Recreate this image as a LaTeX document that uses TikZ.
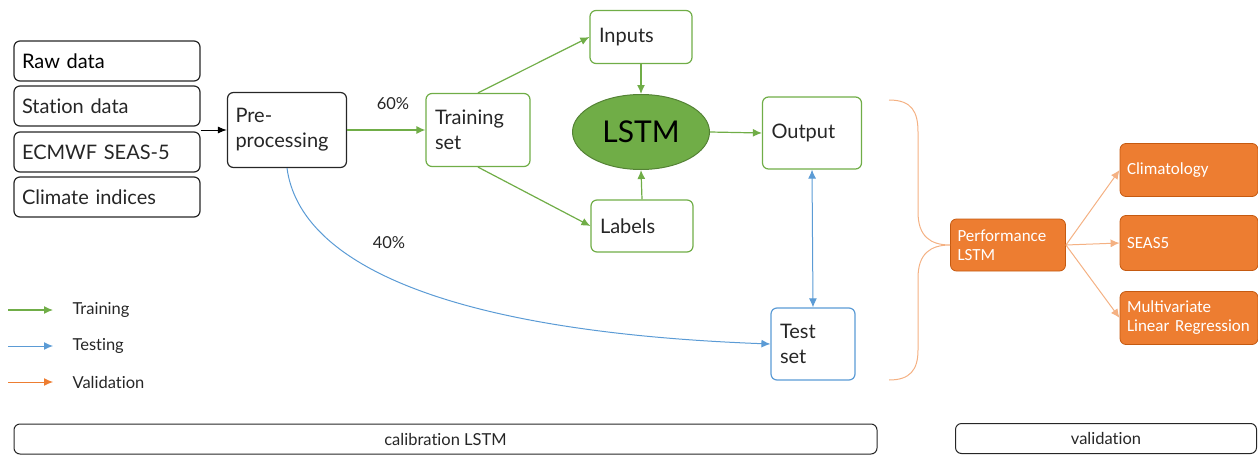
\documentclass[tikz,border=0pt]{standalone}
\usepackage{fontspec}
\setmainfont[Ligatures={NoCommon}]{Lato}
\newfontfamily\calibrifont{Carlito}
\usepackage{tikz}
\usetikzlibrary{shapes,arrows,arrows.meta,positioning}
\definecolor{green}{RGB}{112, 173, 71}
\definecolor{darkgreen}{RGB}{84, 130, 53}
\definecolor{blue}{RGB}{91, 155, 213}
\definecolor{orange}{RGB}{237, 125, 49}
\definecolor{darkorange}{RGB}{197, 90, 17}
\definecolor{lightorange}{RGB}{244, 177, 131}
\definecolor{ink}{RGB}{38, 38, 38}
\tikzstyle{databox} = [rectangle, rounded corners=6pt, draw=ink, line width=1.2pt, text=ink, font=\fontsize{20}{23}\selectfont, align=left, inner xsep=8pt]
\tikzstyle{trainbox} = [rectangle, rounded corners=6pt, draw=green, line width=1.2pt, text=ink, font=\fontsize{20}{25}\selectfont, align=left, inner xsep=9pt]
\tikzstyle{testbox} = [rectangle, rounded corners=6pt, draw=blue, line width=1.2pt, text=ink, font=\fontsize{20}{25}\selectfont, align=left, inner xsep=9pt]
\tikzstyle{lstm} = [ellipse, draw=darkgreen, line width=1pt, fill=green, text=black, font=\fontsize{30}{34}\selectfont, minimum width=137pt, minimum height=75pt]
\tikzstyle{evalbox} = [rectangle, rounded corners=6pt, draw=darkorange, line width=0.8pt, fill=orange, text=white, font=\calibrifont\fontsize{17}{19}\selectfont, align=left, inner xsep=7pt]
\tikzstyle{framebox} = [rectangle, rounded corners=6pt, draw=ink, line width=1pt, text=ink, font=\fontsize{16.5}{18}\selectfont, minimum height=30pt]
\tikzstyle{note} = [text=ink, font=\fontsize{16.5}{18}\selectfont]
\tikzstyle{dataedge} = [draw=black, line width=1pt, >={Latex[length=9pt,width=7pt]}, ->]
\tikzstyle{trainedge} = [draw=green, line width=1.2pt, >={Latex[length=9pt,width=8pt]}, ->]
\tikzstyle{testedge} = [draw=blue, line width=1pt, >={Latex[length=9pt,width=8pt]}, ->]
\tikzstyle{valedge} = [draw=lightorange, line width=1pt, >={Latex[length=9pt,width=8pt]}, ->]

\begin{document}
\begin{tikzpicture}[x=1pt, y=-1pt]
\useasboundingbox (0,0) rectangle (1258,455);

% data sources =============================
\node[databox, text width=170pt, minimum height=40pt, text=black] (raw) at (107,61) {Raw data};
\node[databox, text width=170pt, minimum height=40pt] (station) at (107,106) {Station data};
\node[databox, text width=170pt, minimum height=40pt] (ecmwf) at (107,152) {ECMWF SEAS-5};
\node[databox, text width=170pt, minimum height=40pt] (indices) at (107,197) {Climate indices};

% calibration
\node[databox, text width=103pt, minimum height=75pt, font=\fontsize{20}{25}\selectfont] (pre) at (287,130) {Pre-\\processing};
\node[trainbox, text width=86pt, minimum height=73pt] (train) at (478,130) {Training\\set};
\node[trainbox, text width=84pt, minimum height=53pt] (inputs) at (641,37) {Inputs};
\node[lstm] (lstm) at (641,132) {LSTM};
\node[trainbox, text width=84pt, minimum height=52pt] (labels) at (642,226) {Labels};
\node[trainbox, text width=81pt, minimum height=72pt] (output) at (812,133) {Output};
\node[testbox, text width=66pt, minimum height=72pt] (test) at (813,344) {Test\\set};

\node[note] (p60) at (393,104) {60\%};
\node[note] (p40) at (389,243) {40\%};

% validation
\node[evalbox, text width=101pt, minimum height=52pt] (perf) at (1008,245) {Performance\\LSTM};
\node[evalbox, text width=124pt, minimum height=53pt] (clim) at (1189,170) {Climatology};
\node[evalbox, text width=124pt, minimum height=55pt] (seas) at (1189,243) {SEAS5};
\node[evalbox, text width=124pt, minimum height=53pt] (mlr) at (1189,318) {Multivariate\\Linear Regression};

% legend
\coordinate (lg1) at (8,310);
\coordinate (lg2) at (53,310);
\coordinate (lb1) at (8,346);
\coordinate (lb2) at (53,346);
\coordinate (lo1) at (8,382);
\coordinate (lo2) at (53,382);
\node[note, anchor=west] (ltrain) at (69,310) {Training};
\node[note, anchor=west] (ltest) at (69,346) {Testing};
\node[note, anchor=west] (lval) at (69,382) {Validation};

% frames
\node[framebox, minimum width=863pt] (calib) at (445.5,439) {calibration LSTM};
\node[framebox, minimum width=301pt] (valid) at (1106,438.5) {validation};

%edges
\path[dataedge] (station.east |- pre.west) -- (pre.west);
\path[trainedge] (pre.east) -- (train.west);
\path[trainedge] (train.north) -- (inputs.west);
\path[trainedge] (train.south) -- (labels.west);
\path[trainedge] (inputs.south) -- (lstm.north);
\path[trainedge] (labels.north) -- (lstm.south);
\path[trainedge] (lstm.east) -- (output.west);

\path[testedge, <->] (output.south) -- (test.north);
\path[testedge] (pre.south) .. controls (300,265) and (450,332) .. (test.west);

\path[valedge] (perf.east) -- (clim.west);
\path[valedge] (perf.east) -- (seas.west);
\path[valedge] (perf.east) -- (mlr.west);

% brace
\draw[lightorange, line width=1pt] (889,100) .. controls (912,100) and (918,112) .. (918,132) -- (918,212) .. controls (918,236) and (930,245) .. (perf.west)
  .. controls (930,245) and (918,254) .. (918,278) -- (918,350) .. controls (918,370) and (910,380) .. (889,380);

\path[trainedge] (lg1) -- (lg2);
\path[testedge] (lb1) -- (lb2);
\path[valedge, draw=orange] (lo1) -- (lo2);

\end{tikzpicture}
\end{document}
